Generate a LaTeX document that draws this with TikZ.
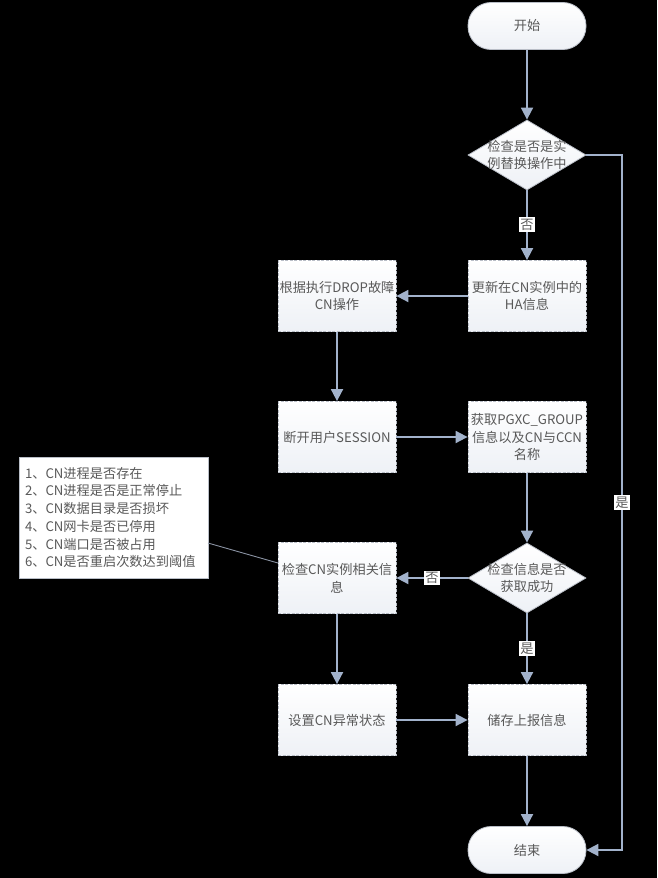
\documentclass[tikz,border=0pt]{standalone}
\usepackage{fontspec}
\setmainfont{Noto Sans CJK SC}
\usepackage{tikz}
\usetikzlibrary{arrows.meta,positioning,shapes.geometric}
\definecolor{cnink}{HTML}{595959}
\definecolor{cnedge}{HTML}{B9BEC7}
\definecolor{cnflow}{HTML}{A2B2CB}
\definecolor{cnshade}{HTML}{EEF1F6}
\definecolor{cnlink}{HTML}{8A93A3}
\tikzset{
  txt/.style={text=cnink, font=\fontsize{13.2}{17.7}\selectfont},
  procbox/.style={txt, draw=cnedge, dash pattern=on 3pt off 1.5pt, line width=0.8pt,
    top color=white, bottom color=cnshade, minimum width=118pt, minimum height=71pt,
    text width=116pt, align=center, inner sep=0pt},
  term/.style={txt, draw=cnedge, line width=0.8pt, rounded corners=23pt,
    top color=white, bottom color=cnshade, minimum width=118pt, minimum height=47pt},
  decide/.style={diamond, draw=cnedge, line width=0.8pt, top color=white, bottom color=cnshade,
    minimum width=118pt, minimum height=70pt, inner sep=0pt},
  inlbl/.style={txt, align=center},
  note/.style={txt, draw=cnedge, fill=white, line width=0.8pt, align=left,
    minimum width=189pt, minimum height=121pt, text width=177pt, inner sep=0pt},
  tag/.style={txt, fill=white, inner sep=1.5pt},
  flow/.style={-{Triangle[width=12pt,length=12pt]}, line width=1.8pt, draw=cnflow},
}

\begin{document}
\begin{tikzpicture}[x=1pt, y=-1pt]
\useasboundingbox[fill=black] (0,0) rectangle (657,878);

% ---------- right column ----------
\node[term] (start) at (527,26) {开始};
\node[decide, label={[inlbl]center:检查是否是实\\例替换操作中}] (inrep) at (527,155) {};
\node[procbox] (upd) at (527,296) {更新在CN实例中的\\HA信息};
\node[procbox] (fetch) at (527,437) {获取PGXC\_GROUP\\信息以及CN与CCN\\名称};
\node[decide, label={[inlbl]center:检查信息是否\\获取成功}] (gotit) at (527,578) {};
\node[procbox] (store) at (527,720) {储存上报信息};
\node[term] (stop) at (527,850) {结束};

% ---------- left column ----------
\node[procbox] (drop) at (337,296) {根据执行DROP故障\\CN操作};
\node[procbox] (sess) at (337,437) {断开用户SESSION};
\node[procbox] (chkcn) at (337,578) {检查CN实例相关信\\息};
\node[procbox] (setab) at (337,720) {设置CN异常状态};

% ---------- note ----------
\node[note] (items) at (113.5,517.5) {1、CN进程是否存在\\2、CN进程是否是正常停止\\3、CN数据目录是否损坏\\4、CN网卡是否已停用\\5、CN端口是否被占用\\6、CN是否重启次数达到阈值};
\coordinate (itemsr) at (208,543);
\coordinate (chkcnl) at (278,563);
\draw[cnlink, line width=0.9pt] (itemsr) -- (chkcnl);

% ---------- connectors ----------
\draw[flow] (start) -- (inrep);
\draw[flow] (inrep) -- node[tag, pos=0.49] {否} (upd);
\draw[flow] (upd) -- (drop);
\draw[flow] (drop) -- (sess);
\draw[flow] (sess) -- (fetch);
\draw[flow] (fetch) -- (gotit);
\draw[flow] (gotit) -- node[tag, pos=0.5] {否} (chkcn);
\draw[flow] (gotit) -- node[tag, pos=0.5] {是} (store);
\draw[flow] (chkcn) -- (setab);
\draw[flow] (setab) -- (store);
\draw[flow] (store) -- (stop);
\coordinate (edge) at (622,155);
\draw[flow] (inrep.east) -- (edge) |- node[tag, pos=0.25] {是} (stop.east);
\end{tikzpicture}
\end{document}
